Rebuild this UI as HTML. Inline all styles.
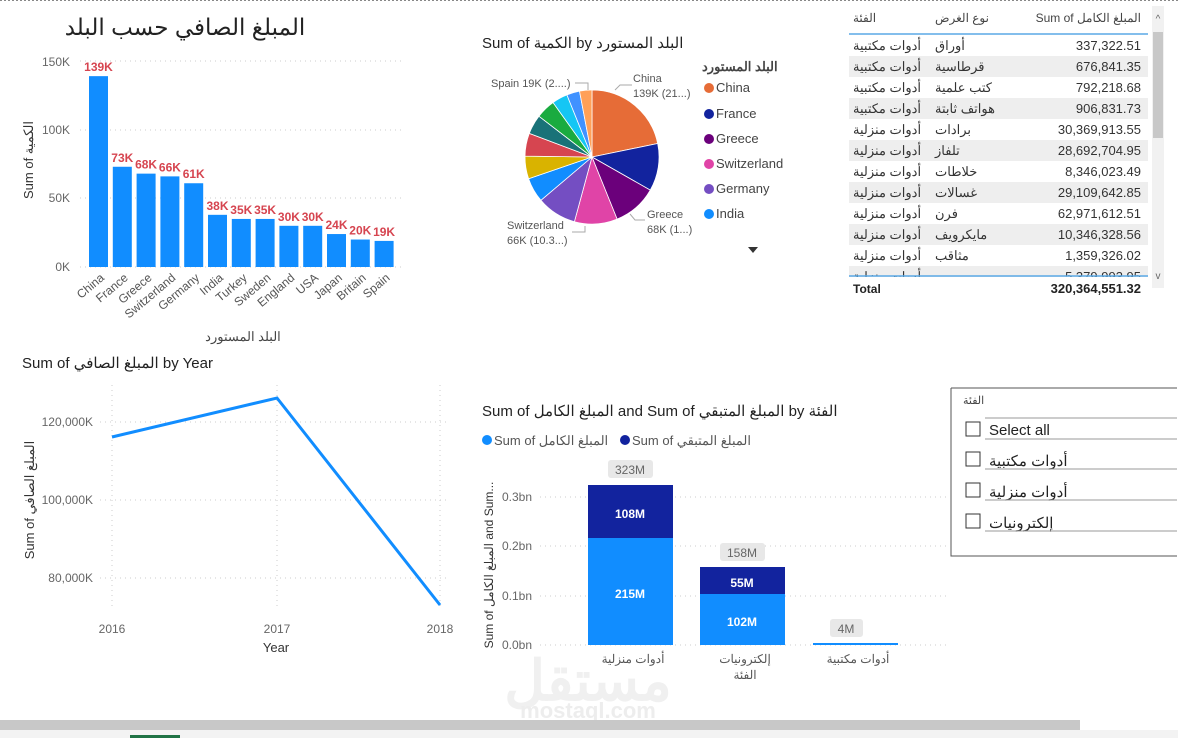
<!DOCTYPE html>
<html><head><meta charset="utf-8"><style>
body{margin:0;width:1178px;height:738px;background:#fff;overflow:hidden;position:relative;font-family:"Liberation Sans","Noto Sans CJK SC",sans-serif;}
svg{position:absolute;left:0;top:0}
</style></head><body>
<svg width="1178" height="738" font-family="Liberation Sans, Noto Sans CJK SC, sans-serif">
<line x1="0" y1="0.5" x2="1178" y2="0.5" stroke="#888" stroke-dasharray="2,2"/>
<text x="185" y="35" font-size="23" fill="#222" text-anchor="middle">المبلغ الصافي حسب البلد</text>
<g font-size="12" fill="#666" text-anchor="end">
<text x="70" y="66">150K</text><text x="70" y="134">100K</text><text x="70" y="202">50K</text><text x="70" y="271">0K</text></g>
<g stroke="#ccc" stroke-dasharray="1,4"><line x1="80" y1="61" x2="405" y2="61"/><line x1="80" y1="130" x2="405" y2="130"/><line x1="80" y1="198" x2="405" y2="198"/><line x1="80" y1="267" x2="405" y2="267"/></g>
<g fill="#118dff" id="bars"></g>
<text transform="translate(33,160) rotate(-90)" font-size="13" fill="#333" text-anchor="middle">Sum of الكمية</text>
<text x="243" y="341" font-size="13" fill="#444" text-anchor="middle">البلد المستورد</text>
<text x="482" y="48" font-size="15" fill="#222">Sum of الكمية by البلد المستورد</text>
<g stroke="#fff" stroke-width="0.8">
<path d="M592,157 L592,90 A67,67 0 0 1 657.7,143.5Z" fill="#e66c37"/>
<path d="M592,157 L657.7,143.5 A67,67 0 0 1 650.3,190.1Z" fill="#12239e"/>
<path d="M592,157 L650.3,190.1 A67,67 0 0 1 617.1,219.1Z" fill="#6b007b"/>
<path d="M592,157 L617.1,219.1 A67,67 0 0 1 574.4,221.7Z" fill="#e044a7"/>
<path d="M592,157 L574.4,221.7 A67,67 0 0 1 540.9,200.3Z" fill="#744ec2"/>
<path d="M592,157 L540.9,200.3 A67,67 0 0 1 528.6,178.7Z" fill="#118dff"/>
<path d="M592,157 L528.6,178.7 A67,67 0 0 1 525,156.1Z" fill="#d9b300"/>
<path d="M592,157 L525,156.1 A67,67 0 0 1 529.3,133.4Z" fill="#d64550"/>
<path d="M592,157 L529.3,133.4 A67,67 0 0 1 538.9,116.2Z" fill="#197278"/>
<path d="M592,157 L538.9,116.2 A67,67 0 0 1 553,102.5Z" fill="#1aab40"/>
<path d="M592,157 L553,102.5 A67,67 0 0 1 566.9,94.9Z" fill="#15c6f4"/>
<path d="M592,157 L566.9,94.9 A67,67 0 0 1 579.5,91.1Z" fill="#4092ff"/>
<path d="M592,157 L579.5,91.1 A67,67 0 0 1 592,90Z" fill="#ffa058"/>
</g>
<g fill="none" stroke="#aaa"><path d="M575,83 L588,83 L588,90"/><path d="M615,90 L620,85 L632,85"/><path d="M630,214 L635,220 L645,220"/><path d="M585,226 L585,232 L572,232"/></g>
<g font-size="11" fill="#555"><text x="491" y="87">Spain 19K (2....)</text><text x="633" y="82">China</text><text x="633" y="97">139K (21...)</text>
<text x="647" y="218">Greece</text><text x="647" y="233">68K (1...)</text><text x="507" y="229">Switzerland</text><text x="507" y="244">66K (10.3...)</text></g>
<text x="702" y="71" font-size="13" font-weight="bold" fill="#444">البلد المستورد</text>
<g font-size="13" fill="#444">
<circle cx="709" cy="88" r="5" fill="#e66c37"/><text x="716" y="92">China</text>
<circle cx="709" cy="114" r="5" fill="#12239e"/><text x="716" y="118">France</text>
<circle cx="709" cy="139" r="5" fill="#6b007b"/><text x="716" y="143">Greece</text>
<circle cx="709" cy="164" r="5" fill="#e044a7"/><text x="716" y="168">Switzerland</text>
<circle cx="709" cy="189" r="5" fill="#744ec2"/><text x="716" y="193">Germany</text>
<circle cx="709" cy="214" r="5" fill="#118dff"/><text x="716" y="218">India</text></g>
<path d="M748,247 L758,247 L753,253Z" fill="#333"/>
<g font-size="12" fill="#444"><text x="853" y="22">الفئة</text><text x="935" y="22">نوع الغرض</text><text x="1141" y="22" text-anchor="end">Sum of المبلغ الكامل</text></g>
<line x1="849" y1="34" x2="1148" y2="34" stroke="#5aa9e6" stroke-width="1.5"/>
<g id="rows"></g>
<line x1="849" y1="276" x2="1148" y2="276" stroke="#5aa9e6" stroke-width="1.5"/>
<text x="853" y="293" font-size="12" font-weight="bold" fill="#222">Total</text>
<text x="1141" y="293" font-size="13" font-weight="bold" fill="#222" text-anchor="end">320,364,551.32</text>
<rect x="1152" y="6" width="12" height="282" fill="#f1f1f1"/><rect x="1153" y="32" width="10" height="106" fill="#c8c8c8"/>
<text x="1158" y="22" font-size="10" fill="#666" text-anchor="middle">^</text><text x="1158" y="279" font-size="10" fill="#666" text-anchor="middle">v</text>
<text x="22" y="368" font-size="15" fill="#222">Sum of المبلغ الصافي by Year</text>
<g stroke="#ccc" stroke-dasharray="1,4"><line x1="100" y1="422" x2="450" y2="422"/><line x1="100" y1="500" x2="450" y2="500"/><line x1="100" y1="578" x2="450" y2="578"/><line x1="112" y1="385" x2="112" y2="610"/><line x1="277" y1="385" x2="277" y2="610"/><line x1="440" y1="385" x2="440" y2="610"/></g>
<g font-size="12" fill="#666" text-anchor="end"><text x="93" y="426">120,000K</text><text x="93" y="504">100,000K</text><text x="93" y="582">80,000K</text></g>
<g font-size="12" fill="#666" text-anchor="middle"><text x="112" y="633">2016</text><text x="277" y="633">2017</text><text x="440" y="633">2018</text></g>
<text x="276" y="652" font-size="13" fill="#333" text-anchor="middle">Year</text>
<text transform="translate(34,500) rotate(-90)" font-size="13" fill="#333" text-anchor="middle">Sum of المبلغ الصافي</text>
<polyline points="112,437 277,398 440,605" fill="none" stroke="#118dff" stroke-width="3"/>
<text x="482" y="416" font-size="15" fill="#222">Sum of المبلغ الكامل and Sum of المبلغ المتبقي by الفئة</text>
<circle cx="487" cy="440" r="5" fill="#118dff"/><text x="494" y="445" font-size="13" fill="#555">Sum of المبلغ الكامل</text>
<circle cx="625" cy="440" r="5" fill="#12239e"/><text x="632" y="445" font-size="13" fill="#555">Sum of المبلغ المتبقي</text>
<g stroke="#ccc" stroke-dasharray="1,4"><line x1="540" y1="497" x2="950" y2="497"/><line x1="540" y1="546" x2="950" y2="546"/><line x1="540" y1="596" x2="950" y2="596"/><line x1="540" y1="645" x2="950" y2="645"/></g>
<g font-size="12" fill="#666" text-anchor="end"><text x="532" y="501">0.3bn</text><text x="532" y="550">0.2bn</text><text x="532" y="600">0.1bn</text><text x="532" y="649">0.0bn</text></g>
<text x="588" y="700" font-size="56" font-weight="bold" fill="#f0f0f0" text-anchor="middle">مستقل</text>
<text x="588" y="718" font-size="22" font-weight="bold" fill="#ededed" text-anchor="middle">mostaql.com</text>
<rect x="588" y="538" width="85" height="107" fill="#118dff"/><rect x="588" y="485" width="85" height="53" fill="#12239e"/>
<rect x="700" y="594" width="85" height="51" fill="#118dff"/><rect x="700" y="567" width="85" height="27" fill="#12239e"/>
<rect x="813" y="643" width="85" height="2" fill="#118dff"/>
<g font-size="12" text-anchor="middle">
<rect x="608" y="460" width="45" height="18" rx="3" fill="#e8e8e8"/><text x="630" y="474" fill="#666">323M</text>
<rect x="720" y="543" width="45" height="18" rx="3" fill="#e8e8e8"/><text x="742" y="557" fill="#666">158M</text>
<rect x="830" y="619" width="33" height="18" rx="3" fill="#e8e8e8"/><text x="846" y="633" fill="#666">4M</text>
<text x="630" y="518" fill="#fff" font-weight="bold">108M</text><text x="630" y="598" fill="#fff" font-weight="bold">215M</text>
<text x="742" y="587" fill="#fff" font-weight="bold">55M</text><text x="742" y="626" fill="#fff" font-weight="bold">102M</text>
<g fill="#555"><text x="633" y="663">أدوات منزلية</text><text x="745" y="663">إلكترونيات</text><text x="745" y="679">الفئة</text><text x="858" y="663">أدوات مكتبية</text></g></g>
<text transform="translate(493,565) rotate(-90)" font-size="12" fill="#333" text-anchor="middle">Sum of المبلغ الكامل and Sum...</text>
<path d="M951,388 L1177,388 M951,388 L951,556 L1177,556" fill="none" stroke="#555"/>
<text x="963" y="404" font-size="11" fill="#444">الفئة</text>
<g font-size="15" fill="#222"><line x1="985" y1="439" x2="1177" y2="439" stroke="#999"/>
<rect x="966" y="422" width="14" height="14" fill="#fff" stroke="#333"/><text x="989" y="435">Select all</text>
<rect x="966" y="452" width="14" height="14" fill="#fff" stroke="#333"/><text x="989" y="466">أدوات مكتبية</text><line x1="985" y1="469" x2="1177" y2="469" stroke="#999"/>
<rect x="966" y="483" width="14" height="14" fill="#fff" stroke="#333"/><text x="989" y="497">أدوات منزلية</text><line x1="985" y1="500" x2="1177" y2="500" stroke="#999"/>
<rect x="966" y="514" width="14" height="14" fill="#fff" stroke="#333"/><text x="989" y="528">إلكترونيات</text><line x1="985" y1="531" x2="1177" y2="531" stroke="#999"/>
<line x1="985" y1="418" x2="1177" y2="418" stroke="#999"/></g>
<rect x="0" y="720" width="1080" height="10" fill="#c8c8c8"/><rect x="0" y="730" width="1178" height="8" fill="#f3f3f3"/>
<rect x="130" y="735" width="50" height="3" fill="#217346"/>
</svg>
<script>
var ns="http://www.w3.org/2000/svg";
var v=[139,73,68,66,61,38,35,35,30,30,24,20,19],n=["China","France","Greece","Switzerland","Germany","India","Turkey","Sweden","England","USA","Japan","Britain","Spain"];
var g=document.getElementById("bars"),s=g.ownerSVGElement;
for(var i=0;i<13;i++){var x=89+i*23.8,h=v[i]*1.373;
var r=document.createElementNS(ns,"rect");r.setAttribute("x",x);r.setAttribute("y",267-h);r.setAttribute("width",19);r.setAttribute("height",h);g.appendChild(r);
var t=document.createElementNS(ns,"text");t.setAttribute("x",x+9.5);t.setAttribute("y",267-h-5);t.setAttribute("text-anchor","middle");t.setAttribute("font-size","12");t.setAttribute("font-weight","bold");t.setAttribute("fill","#d64550");t.textContent=v[i]+"K";s.appendChild(t);
var l=document.createElementNS(ns,"text");l.setAttribute("transform","translate("+(x+16)+",279) rotate(-40)");l.setAttribute("text-anchor","end");l.setAttribute("font-size","12");l.setAttribute("fill","#555");l.textContent=n[i];s.appendChild(l);}
var rows=[["أدوات مكتبية","أوراق","337,322.51"],["أدوات مكتبية","قرطاسية","676,841.35"],["أدوات مكتبية","كتب علمية","792,218.68"],["أدوات مكتبية","هواتف ثابتة","906,831.73"],["أدوات منزلية","برادات","30,369,913.55"],["أدوات منزلية","تلفاز","28,692,704.95"],["أدوات منزلية","خلاطات","8,346,023.49"],["أدوات منزلية","غسالات","29,109,642.85"],["أدوات منزلية","فرن","62,971,612.51"],["أدوات منزلية","مايكرويف","10,346,328.56"],["أدوات منزلية","مثاقب","1,359,326.02"],["أدوات منزلية","","5,379,993.95"]];
var rg=document.getElementById("rows");
for(var i=0;i<rows.length;i++){var y=35+i*21;
if(i%2){var b=document.createElementNS(ns,"rect");b.setAttribute("x",849);b.setAttribute("y",y);b.setAttribute("width",299);b.setAttribute("height",21);b.setAttribute("fill","#eeeeee");rg.appendChild(b);}
var c=[[853,"start",rows[i][0]],[935,"start",rows[i][1]],[1141,"end",rows[i][2]]];
for(var j=0;j<3;j++){var t=document.createElementNS(ns,"text");t.setAttribute("x",c[j][0]);t.setAttribute("y",y+15);t.setAttribute("text-anchor",c[j][1]);t.setAttribute("font-size","13");t.setAttribute("fill","#333");t.textContent=c[j][2];rg.appendChild(t);}}
var cl=document.createElementNS(ns,"rect");cl.setAttribute("x",849);cl.setAttribute("y",277);cl.setAttribute("width",299);cl.setAttribute("height",20);cl.setAttribute("fill","#fff");rg.appendChild(cl);
</script>
</body></html>
